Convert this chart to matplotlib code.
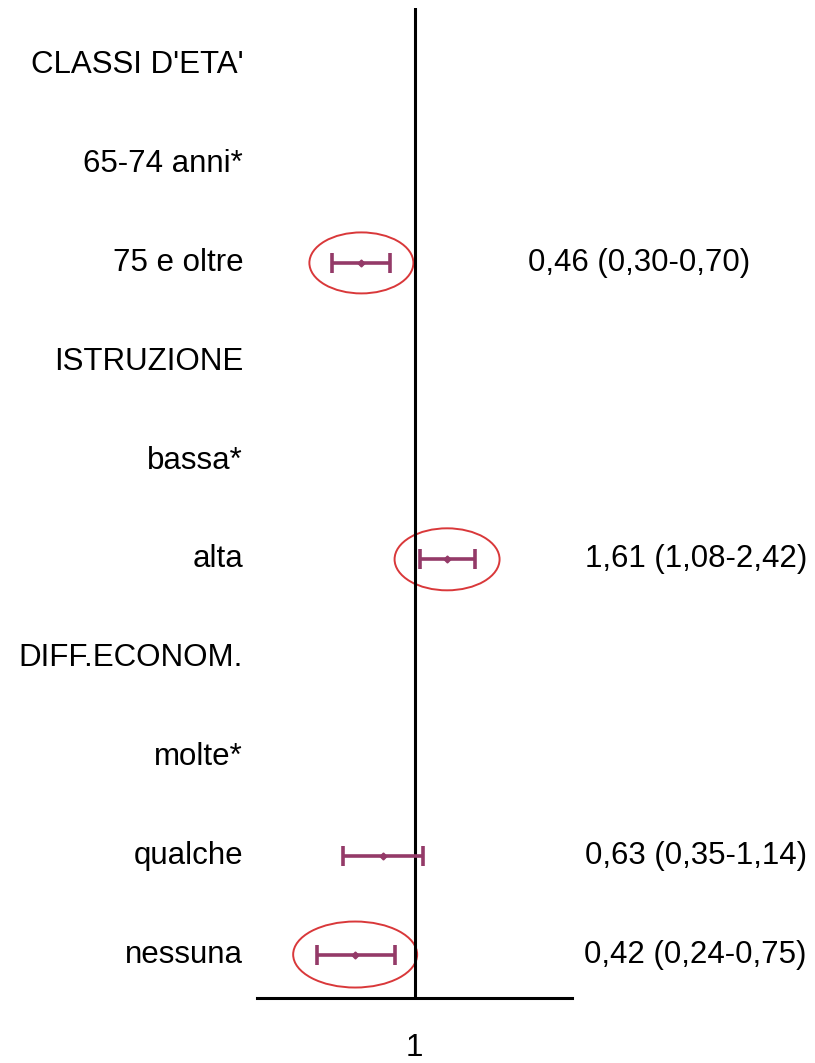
"""
    forest plot - odds ratio
"""

import numpy as np
import matplotlib.pyplot as plt
from matplotlib.patches import Ellipse

plt.rcParams['font.family'] = ['Liberation Sans', 'DejaVu Sans']

labels = ["CLASSI D'ETA'", "65-74 anni*", "75 e oltre", "ISTRUZIONE", "bassa*",
          "alta", "DIFF.ECONOM.", "molte*", "qualche", "nessuna"]
odds = [np.nan, np.nan, 0.46, np.nan, np.nan, 1.61, np.nan, np.nan, 0.63, 0.42]
ci_low = [np.nan, np.nan, 0.30, np.nan, np.nan, 1.08, np.nan, np.nan, 0.35, 0.24]
ci_high = [np.nan, np.nan, 0.70, np.nan, np.nan, 2.42, np.nan, np.nan, 1.14, 0.75]
value_text = ["", "", "0,46 (0,30-0,70)", "", "", "1,61 (1,08-2,42)", "", "",
              "0,63 (0,35-1,14)", "0,42 (0,24-0,75)"]
circled = [2, 5, 9]

W, H = 815, 1063
fig = plt.figure(figsize=(W / 100, H / 100), dpi=100)
ax = fig.add_axes([257 / W, 1 - 998 / H, 315 / W, 990 / H])

rows = np.arange(len(labels))
odds = np.array(odds)
lo = np.array(ci_low)
hi = np.array(ci_high)
ok = ~np.isnan(odds)

col = '#943a68'
ax.errorbar(odds[ok], rows[ok], xerr=[odds[ok] - lo[ok], hi[ok] - odds[ok]],
            fmt='D', color=col, ms=3.5, elinewidth=2.6, capsize=7, capthick=2.6, zorder=3)

ax.set_xscale('log')
ax.set_xlim(0.1, 10)
ax.set_ylim(9.44, -0.58)
ax.axvline(1, color='black', lw=2.2, zorder=2)

for s in ['top', 'right', 'left']:
    ax.spines[s].set_visible(False)
ax.spines['bottom'].set_linewidth(2.2)
ax.set_yticks([])
ax.set_xticks([1])
ax.set_xticklabels(['1'])
ax.xaxis.set_minor_locator(plt.NullLocator())
ax.tick_params(axis='x', length=0, pad=25, labelsize=22.5)

fs = 22.5
trans = ax.get_yaxis_transform()
for r, lab in enumerate(labels):
    ax.text(-0.044, r, lab, transform=trans, ha='right', va='center', fontsize=fs)

for r, txt in enumerate(value_text):
    if txt:
        xr = 1.565 if r == 2 else 1.746
        ax.text(xr, r, txt, transform=trans, ha='right', va='center', fontsize=fs)

# red circles around the significant ones
sizes = {2: (104, 61), 5: (105, 62), 9: (124, 66)}
y0, y1 = ax.get_ylim()
for r in circled:
    cx = (np.log10(odds[r]) + 1) / 2
    cy = (y0 - r) / (y0 - y1)
    w, h = sizes[r]
    ax.add_patch(Ellipse((cx, cy), w / 315, h / 990, transform=ax.transAxes,
                         fill=False, edgecolor='#d9383a', lw=1.4, clip_on=False))

plt.savefig('out.png', dpi=100)
plt.close()
